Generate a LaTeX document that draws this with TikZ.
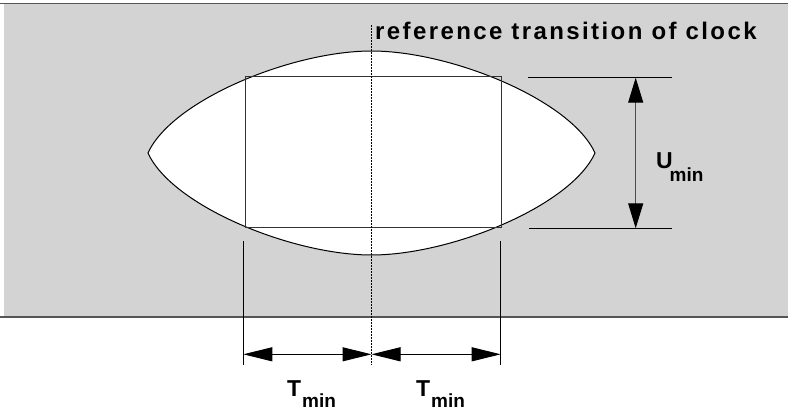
\documentclass[tikz,border=0pt]{standalone}
\usepackage{fontspec}
\setmainfont{Liberation Sans}
\usetikzlibrary{arrows.meta}
\definecolor{bggray}{HTML}{D3D3D3}
\definecolor{edgegray}{HTML}{555555}
\newfontfamily\spacedfont[LetterSpace=10]{Liberation Sans}
\begin{document}
\begin{tikzpicture}[x=1pt,y=-1pt,
  border/.style={draw=edgegray,line width=1.3pt},
  eyeline/.style={draw=black,line width=1pt},
  boxline/.style={draw=black!80,line width=1pt},
  refline/.style={draw=black,line width=0.7pt,dash pattern=on 2pt off 1pt},
  dimline/.style={draw=black,line width=1pt},
  dimarrow/.style={draw=black,line width=1pt,{Triangle[length=29pt,width=14pt]}-{Triangle[length=29pt,width=14pt]}},
  uarrow/.style={draw=black!70,line width=1.2pt,{Triangle[length=25pt,width=15pt,fill=black,color=black]}-{Triangle[length=25pt,width=15pt,fill=black,color=black]}},
  bigtxt/.style={inner sep=0pt,anchor=base west,font=\bfseries\fontsize{23}{23}\selectfont},
  subtxt/.style={inner sep=0pt,anchor=base west,font=\bfseries\fontsize{19}{19}\selectfont},
]
\useasboundingbox (0,0) rectangle (788,410);
% background band
\fill[bggray] (4,4) rectangle (788,317);
\draw[border] (0,3.5) -- (788,3.5);
\draw[border] (0,317) -- (788,317);
% eye
\path[fill=white,eyeline] (148,153) .. controls (172,100) and (292,51) .. (371.5,51)
  .. controls (451,51) and (571,100) .. (595,153)
  .. controls (571,206) and (451,255) .. (371.5,255)
  .. controls (292,255) and (172,206) .. (148,153) -- cycle;
% inner rectangle
\draw[boxline] (245.3,76) rectangle (501.7,227.3);
% reference line
\coordinate (reftop) at (371.5,25);
\coordinate (refbot) at (371.5,365);
\draw[refline] (reftop) -- (refbot);
\node[inner sep=0pt,anchor=base west,font=\spacedfont\bfseries\fontsize{24}{24}\selectfont] (reflabel) at (375,39.3) {reference transition of clock};
% U_min dimension
\coordinate (utl) at (528,77.7);
\coordinate (utr) at (671.7,77.7);
\coordinate (ubl) at (529,228.3);
\coordinate (ubr) at (671.7,228.3);
\draw[dimline] (utl) -- (utr);
\draw[dimline] (ubl) -- (ubr);
\coordinate (utop) at (635.7,77.7);
\coordinate (ubot) at (635.7,228.3);
\draw[uarrow] (utop) -- (ubot);
\node[bigtxt] (U) at (656,168.3) {U};
\node[subtxt] (Usub) at (669.5,181) {min};
% T_min dimensions
\coordinate (lt1) at (243.3,241);
\coordinate (lb1) at (243.3,365);
\coordinate (rt1) at (500.7,241);
\coordinate (rb1) at (500.7,365);
\draw[dimline] (lt1) -- (lb1);
\draw[dimline] (rt1) -- (rb1);
\coordinate (al) at (243.3,354.3);
\coordinate (am) at (371.5,354.3);
\coordinate (ar) at (500.7,354.3);
\draw[dimarrow] (al) -- (am);
\draw[dimarrow] (am) -- (ar);
\node[bigtxt] (T1) at (287,396) {T};
\node[subtxt] (T1sub) at (302,407) {min};
\node[bigtxt] (T2) at (416,396) {T};
\node[subtxt] (T2sub) at (431,407) {min};
\end{tikzpicture}
\end{document}
